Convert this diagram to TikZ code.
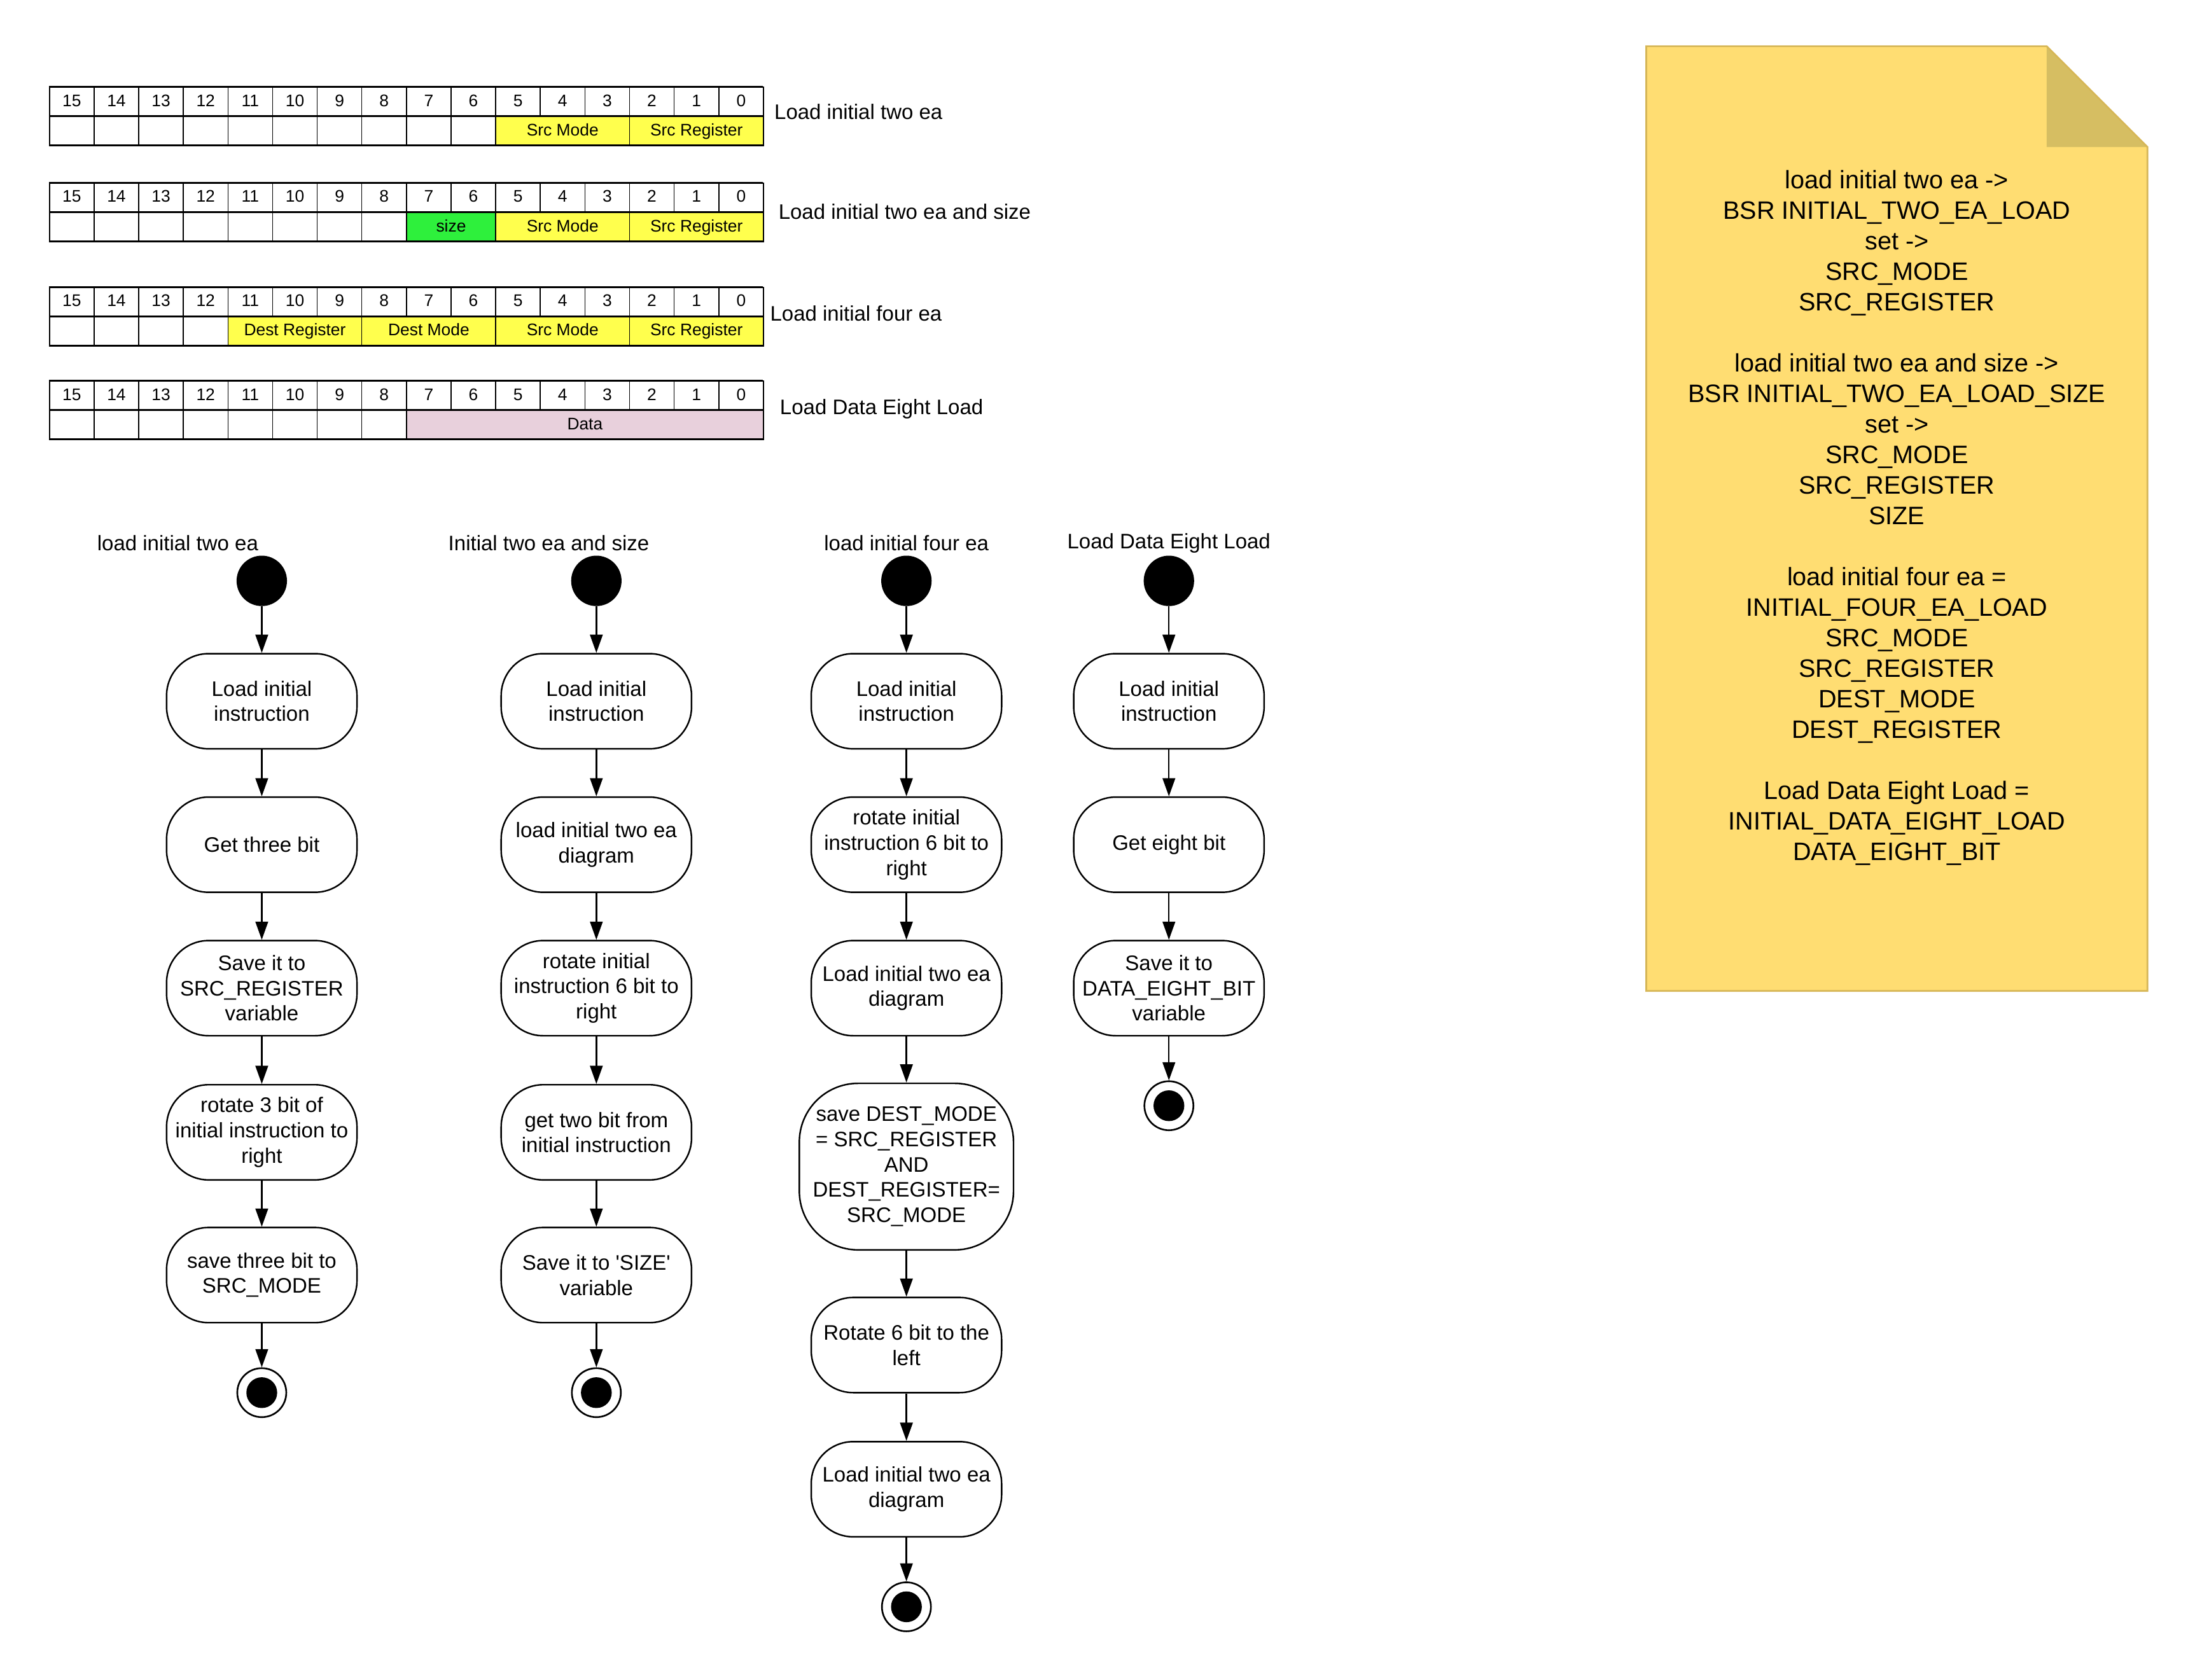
\documentclass[tikz,border=0pt]{standalone}
\usepackage{fontspec}
\setmainfont{Liberation Sans}
\usetikzlibrary{arrows.meta}
\definecolor{fyellow}{HTML}{FFFF4D}
\definecolor{fgreen}{HTML}{2EF03C}
\definecolor{fpink}{HTML}{E8D0DC}
\definecolor{notefill}{HTML}{FFDD72}
\definecolor{notefold}{HTML}{D6BE62}
\definecolor{noteline}{HTML}{D6B656}
\tikzset{
  bitcell/.style={draw, line width=0.7pt, minimum width=31.875pt, minimum height=21pt,
    inner sep=0pt, anchor=north west, text height=8.6pt, text depth=2.4pt,
    font=\fontsize{12}{14}\selectfont},
  tlabel/.style={anchor=west, inner sep=0pt, font=\fontsize{15}{18}\selectfont},
  clabel/.style={inner sep=0pt, font=\fontsize{15}{18}\selectfont},
  actbox/.style={draw, line width=1.1pt, rounded corners=30pt, minimum width=136pt,
    minimum height=68pt, align=center, inner sep=1pt, font=\fontsize{15}{18}\selectfont},
  startdot/.style={circle, fill=black, minimum size=36pt, inner sep=0pt},
  enddot/.style={circle, draw, line width=1.2pt, minimum size=35pt, inner sep=0pt,
    path picture={\fill[black] (path picture bounding box.center) circle (11pt);}},
  flow/.style={line width=1.1pt, -{Triangle[length=13pt,width=9pt]}},
  thickrule/.style={line width=1.3pt}
}
\newcommand\bithead[2]{%
  \foreach \i in {0,...,15}{%
    \pgfmathtruncatemacro\bitno{15-\i}%
    \node[bitcell] (#1h\i) at ({35+31.875*\i},#2) {\bitno};
  }}
\newcommand\bitblanks[3]{%
  \foreach \i in {1,...,#3}{%
    \node[bitcell] (#1e\i) at ({35+31.875*(\i-1)},{#2+21}) {};
  }}
\newcommand\bitrules[1]{%
  \draw[thickrule] (35,#1) -- (545,#1);
  \draw[thickrule] (35,{#1+21}) -- (545,{#1+21});
  \draw[thickrule] (35,{#1+42}) -- (545,{#1+42});
}
\begin{document}
\begin{tikzpicture}[x=1pt,y=-1pt]
\useasboundingbox (0,0) rectangle (1568,1200);

% ---------- bit tables ----------
% table 1
\bithead{ta}{62}
\bitblanks{ta}{62}{10}
\node[bitcell, fill=fyellow, minimum width=95.625pt] (tasm) at (353.75,83) {Src Mode};
\node[bitcell, fill=fyellow, minimum width=95.625pt] (tasr) at (449.375,83) {Src Register};
\bitrules{62}
\node[tlabel] (talab) at (553,80) {Load initial two ea};

% table 2
\bithead{tb}{130.5}
\bitblanks{tb}{130.5}{8}
\node[bitcell, fill=fgreen, minimum width=63.75pt] (tbsz) at (290,151.5) {size};
\node[bitcell, fill=fyellow, minimum width=95.625pt] (tbsm) at (353.75,151.5) {Src Mode};
\node[bitcell, fill=fyellow, minimum width=95.625pt] (tbsr) at (449.375,151.5) {Src Register};
\bitrules{130.5}
\node[tlabel] (tblab) at (556,151) {Load initial two ea and size};

% table 3
\bithead{tc}{205}
\bitblanks{tc}{205}{4}
\node[bitcell, fill=fyellow, minimum width=95.625pt] (tcdr) at (162.5,226) {Dest Register};
\node[bitcell, fill=fyellow, minimum width=95.625pt] (tcdm) at (258.125,226) {Dest Mode};
\node[bitcell, fill=fyellow, minimum width=95.625pt] (tcsm) at (353.75,226) {Src Mode};
\node[bitcell, fill=fyellow, minimum width=95.625pt] (tcsr) at (449.375,226) {Src Register};
\bitrules{205}
\node[tlabel] (tclab) at (550,224) {Load initial four ea};

% table 4
\bithead{td}{272}
\bitblanks{td}{272}{8}
\node[bitcell, fill=fpink, minimum width=255pt] (tddata) at (290,293) {Data};
\bitrules{272}
\node[tlabel] (tdlab) at (557,292) {Load Data Eight Load};

% ---------- note ----------
\fill[notefill] (1176,33) -- (1462,33) -- (1534,105) -- (1534,708) -- (1176,708) -- cycle;
\fill[notefold] (1462,33) -- (1462,105) -- (1534,105) -- cycle;
\draw[noteline, line width=1.2pt] (1176,33) -- (1462,33) -- (1534,105) -- (1534,708) -- (1176,708) -- cycle;
\node[align=center, inner sep=0pt, font=\fontsize{18}{21.8}\selectfont] (notetext) at (1355,370) {%
load initial two ea ->\\
BSR INITIAL\_TWO\_EA\_LOAD\\
set ->\\
SRC\_MODE\\
SRC\_REGISTER\\[21.8pt]
load initial two ea and size ->\\
BSR INITIAL\_TWO\_EA\_LOAD\_SIZE\\
set ->\\
SRC\_MODE\\
SRC\_REGISTER\\
SIZE\\[21.8pt]
load initial four ea =\\
INITIAL\_FOUR\_EA\_LOAD\\
SRC\_MODE\\
SRC\_REGISTER\\
DEST\_MODE\\
DEST\_REGISTER\\[21.8pt]
Load Data Eight Load =\\
INITIAL\_DATA\_EIGHT\_LOAD\\
DATA\_EIGHT\_BIT};

% ---------- column 1 ----------
\node[clabel] (c1lab) at (127,388) {load initial two ea};
\node[startdot] (c1s) at (187,415) {};
\node[actbox] (c1a) at (187,501) {Load initial\\instruction};
\node[actbox] (c1b) at (187,603.5) {Get three bit};
\node[actbox] (c1c) at (187,706) {Save it to\\SRC\_REGISTER\\variable};
\node[actbox] (c1d) at (187,809) {rotate 3 bit of\\initial instruction to\\right};
\node[actbox] (c1e) at (187,911) {save three bit to\\SRC\_MODE};
\node[enddot] (c1f) at (187,995) {};
\draw[flow] (c1s) -- (c1a);
\draw[flow] (c1a) -- (c1b);
\draw[flow] (c1b) -- (c1c);
\draw[flow] (c1c) -- (c1d);
\draw[flow] (c1d) -- (c1e);
\draw[flow] (c1e) -- (c1f);

% ---------- column 2 ----------
\node[clabel] (c2lab) at (392,388) {Initial two ea and size};
\node[startdot] (c2s) at (426,415) {};
\node[actbox] (c2a) at (426,501) {Load initial\\instruction};
\node[actbox] (c2b) at (426,603.5) {load initial two ea\\diagram};
\node[actbox] (c2c) at (426,706) {rotate initial\\instruction 6 bit to\\right};
\node[actbox] (c2d) at (426,809) {get two bit from\\initial instruction};
\node[actbox] (c2e) at (426,911) {Save it to \textquotesingle SIZE\textquotesingle\\variable};
\node[enddot] (c2f) at (426,995) {};
\draw[flow] (c2s) -- (c2a);
\draw[flow] (c2a) -- (c2b);
\draw[flow] (c2b) -- (c2c);
\draw[flow] (c2c) -- (c2d);
\draw[flow] (c2d) -- (c2e);
\draw[flow] (c2e) -- (c2f);

% ---------- column 3 ----------
\node[clabel] (c3lab) at (647.5,388) {load initial four ea};
\node[startdot] (c3s) at (647.5,415) {};
\node[actbox] (c3a) at (647.5,501) {Load initial\\instruction};
\node[actbox] (c3b) at (647.5,603.5) {rotate initial\\instruction 6 bit to\\right};
\node[actbox] (c3c) at (647.5,706) {Load initial two ea\\diagram};
\node[actbox, minimum width=153pt, minimum height=119pt, rounded corners=42pt] (c3d) at (647.5,833.5)
  {save DEST\_MODE\\= SRC\_REGISTER\\AND\\DEST\_REGISTER=\\SRC\_MODE};
\node[actbox] (c3e) at (647.5,961) {Rotate 6 bit to the\\left};
\node[actbox] (c3f) at (647.5,1064) {Load initial two ea\\diagram};
\node[enddot] (c3g) at (647.5,1148) {};
\draw[flow] (c3s) -- (c3a);
\draw[flow] (c3a) -- (c3b);
\draw[flow] (c3b) -- (c3c);
\draw[flow] (c3c) -- (c3d);
\draw[flow] (c3d) -- (c3e);
\draw[flow] (c3e) -- (c3f);
\draw[flow] (c3f) -- (c3g);

% ---------- column 4 ----------
\node[clabel] (c4lab) at (835,388) {Load Data Eight Load};
\node[startdot] (c4s) at (835,415) {};
\node[actbox] (c4a) at (835,501) {Load initial\\instruction};
\node[actbox] (c4b) at (835,603.5) {Get eight bit};
\node[actbox] (c4c) at (835,706) {Save it to\\DATA\_EIGHT\_BIT\\variable};
\node[enddot] (c4d) at (835,790) {};
\draw[flow] (c4s) -- (c4a);
\draw[flow] (c4a) -- (c4b);
\draw[flow] (c4b) -- (c4c);
\draw[flow] (c4c) -- (c4d);
\end{tikzpicture}
\end{document}
